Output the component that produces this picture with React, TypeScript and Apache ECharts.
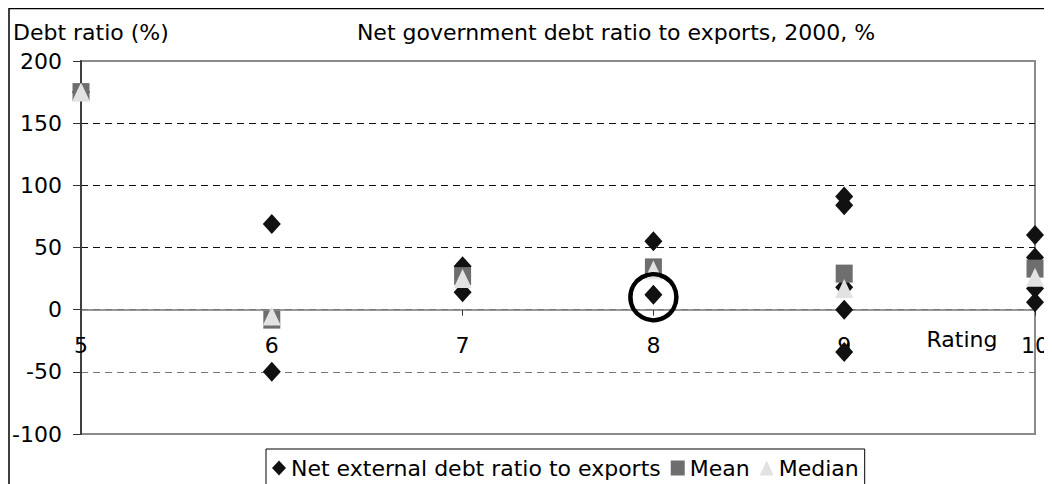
import React, { useEffect, useRef } from "react";
import * as echarts from "echarts";

const titleText = "Net government debt ratio to exports, 2000, %";
const yAxisTitle = "Debt ratio (%)";
const xAxisTitle = "Rating";

const ratings = [5, 6, 7, 8, 9, 10];
const netDebtRatings = [5, 6, 6, 7, 7, 8, 8, 9, 9, 9, 9, 9, 10, 10, 10, 10];
const netDebtValues = [175, 69, -50, 35, 14, 55, 12, 91, 84, 18, 0, -34, 60, 42, 17, 6];
const meanValues = [175, -8, 27, 34, 29, 33];
const medianValues = [175, -5, 25, 32, 17, 26];
const highlightPoint = [8, 10];

const seriesNames = ["Net external debt ratio to exports", "Mean", "Median"];
const FONT = "DejaVu Sans";
const FS = 22;

const GRID_TOP = 53;
const GRID_BOTTOM = 50;
const CHART_H = 476;
const Y_MIN = -100;
const Y_MAX = 200;

export default function App() {
  const ref = useRef<HTMLDivElement>(null);
  useEffect(() => {
    if (!ref.current) return;
    const chart = echarts.init(ref.current, undefined, { renderer: "svg" });
    const plotH = CHART_H - GRID_TOP - GRID_BOTTOM;
    const zeroOffset = -(plotH * (0 - Y_MIN)) / (Y_MAX - Y_MIN);
    chart.setOption({
      animation: false,
      textStyle: { fontFamily: FONT, fontSize: FS, color: "#000" },
      title: {
        text: titleText,
        left: 608,
        top: 13,
        textAlign: "center",
        padding: 0,
        textStyle: { fontFamily: FONT, fontSize: FS, fontWeight: "normal", color: "#000" },
      },
      grid: {
        left: 73,
        top: GRID_TOP,
        right: 14,
        bottom: GRID_BOTTOM,
        show: true,
        borderColor: "#8a8a8a",
        borderWidth: 2,
      },
      legend: {
        left: 258,
        top: 441,
        orient: "horizontal",
        padding: [8, 6, 8, 6],
        borderColor: "#000",
        borderWidth: 1,
        itemWidth: 14,
        itemHeight: 15,
        itemGap: 10,
        textStyle: { fontFamily: FONT, fontSize: FS, color: "#000" },
        data: seriesNames,
      },
      xAxis: {
        type: "value",
        min: 5,
        max: 10,
        interval: 1,
        offset: zeroOffset,
        axisLine: { onZero: false, lineStyle: { color: "#777", width: 1.5 } },
        axisTick: { show: true, inside: false, length: 6, lineStyle: { color: "#333" } },
        axisLabel: { margin: 25, fontFamily: FONT, fontSize: FS, color: "#000", showMinLabel: true, showMaxLabel: true },
        splitLine: { show: false },
      },
      yAxis: {
        type: "value",
        min: Y_MIN,
        max: Y_MAX,
        interval: 50,
        axisLine: { show: true, onZero: false, lineStyle: { color: "#404040", width: 2 } },
        axisTick: { show: true, inside: false, length: 8, lineStyle: { color: "#333" } },
        axisLabel: { margin: 19, fontFamily: FONT, fontSize: FS, color: "#000" },
        splitLine: {
          show: true,
          lineStyle: {
            type: [7, 5],
            width: 1,
            color: ["#8a8a8a", "#777", "#777", "#111", "#111", "#111", "#8a8a8a"],
          },
        },
      },
      graphic: [
        {
          type: "rect",
          silent: true,
          z: -10,
          shape: { x: 1, y: 0.5, width: 2000, height: 2000 },
          style: { fill: "none", stroke: "#000", lineWidth: 1.5 },
        },
        {
          type: "text",
          left: 5,
          top: 13,
          style: { text: yAxisTitle, font: `${FS}px "${FONT}"`, fill: "#000" },
        },
        {
          type: "text",
          x: 954,
          y: 331,
          style: {
            text: xAxisTitle,
            font: `${FS}px "${FONT}"`,
            fill: "#000",
            textAlign: "center",
            textVerticalAlign: "middle",
          },
        },
      ],
      series: [
        {
          name: seriesNames[0],
          type: "scatter",
          symbol: "diamond",
          symbolSize: [18, 20],
          itemStyle: { color: "#111", opacity: 1 },
          z: 2,
          data: netDebtRatings.map((r, i) => [r, netDebtValues[i]]),
          markPoint: {
            symbol: "circle",
            symbolSize: 46,
            silent: true,
            label: { show: false },
            itemStyle: { color: "rgba(0,0,0,0)", borderColor: "#000", borderWidth: 4.5, opacity: 1 },
            data: [{ coord: highlightPoint }],
          },
        },
        {
          name: seriesNames[1],
          type: "scatter",
          symbol: "rect",
          symbolSize: [17, 18],
          itemStyle: { color: "#6e6e6e", opacity: 1 },
          z: 3,
          data: ratings.map((r, i) => [r, meanValues[i]]),
        },
        {
          name: seriesNames[2],
          type: "scatter",
          symbol: "triangle",
          symbolSize: [18, 19],
          itemStyle: { color: "#e2e2e2", opacity: 1 },
          z: 4,
          data: ratings.map((r, i) => [r, medianValues[i]]),
        },
      ],
    });
    return () => chart.dispose();
  }, []);
  return <div ref={ref} style={{ width: 1044, height: 476 }} />;
}
